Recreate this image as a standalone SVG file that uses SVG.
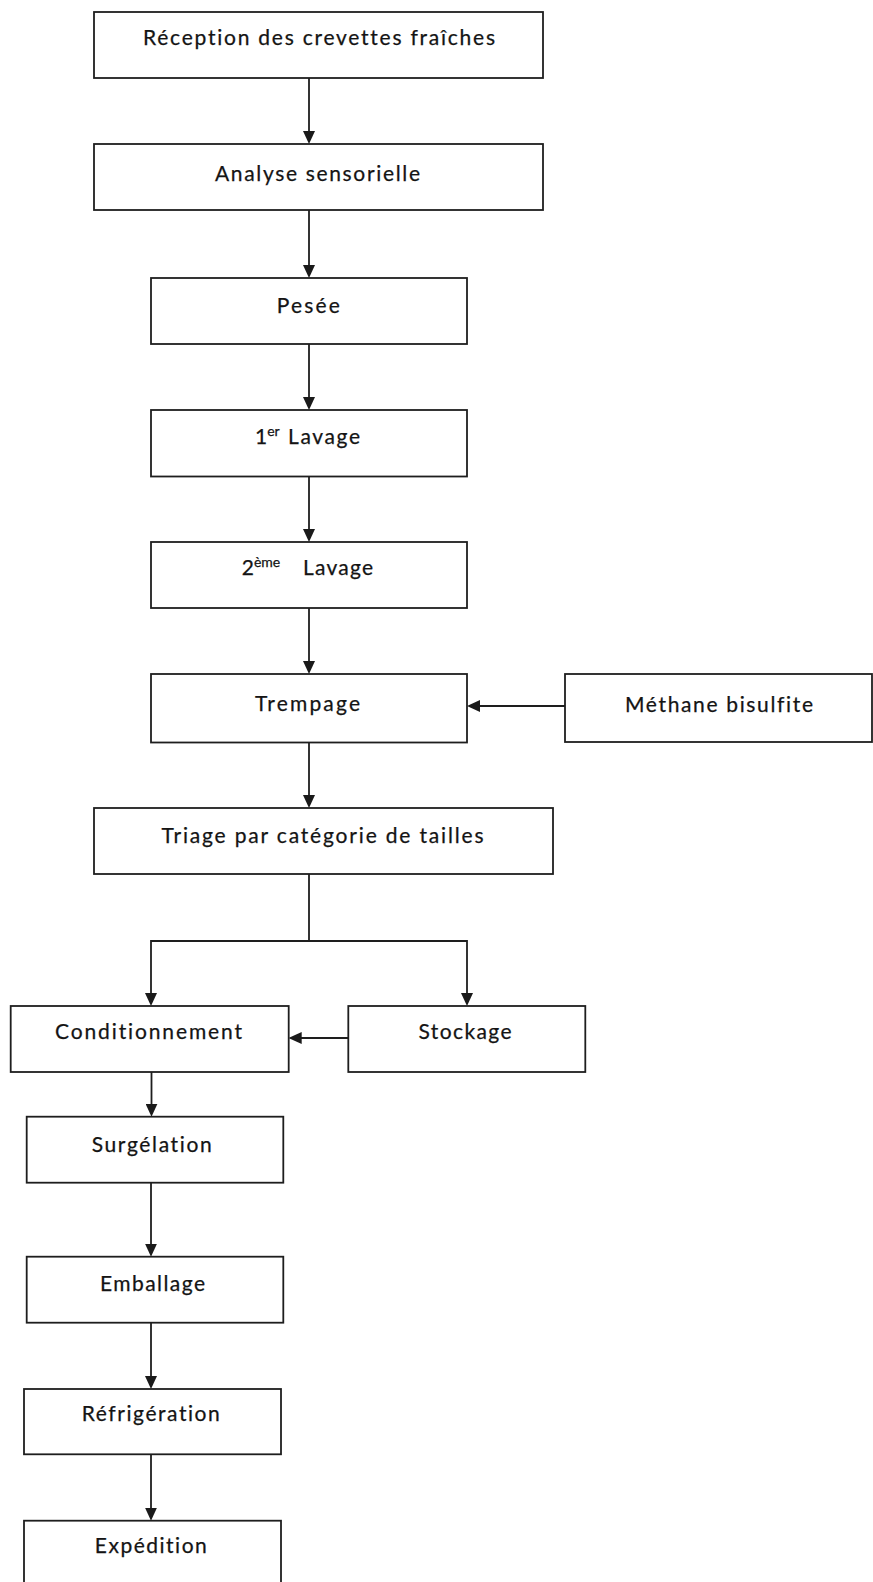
<svg xmlns="http://www.w3.org/2000/svg" width="873" height="1582" viewBox="0 0 873 1582">
<style>
.box{fill:#ffffff;stroke:#1e1e1e;stroke-width:1.8}
.lbl,.lbs{font-family:Lato,"Liberation Sans",sans-serif;font-size:21px;fill:#141414;stroke:#141414;stroke-width:0.25;font-variant-ligatures:none;font-feature-settings:"liga" 0,"clig" 0}
.lbl{text-anchor:middle}
.sup{font-size:14px}
.con{fill:none;stroke:#1e1e1e;stroke-width:1.8}
</style>
<defs>
<marker id="ah" viewBox="0 0 13 12" refX="10" refY="6" markerWidth="13" markerHeight="12" markerUnits="userSpaceOnUse" orient="auto">
<path d="M0,0 L13,6 L0,12 z" fill="#1a1a1a"/>
</marker>
</defs>
<rect width="873" height="1582" fill="#ffffff"/>
<g id="connectors">
<path class="con" marker-end="url(#ah)" d="M309,78 V141"/>
<path class="con" marker-end="url(#ah)" d="M309,210 V275"/>
<path class="con" marker-end="url(#ah)" d="M309,344 V407"/>
<path class="con" marker-end="url(#ah)" d="M309,476.5 V539"/>
<path class="con" marker-end="url(#ah)" d="M309,608 V671"/>
<path class="con" marker-end="url(#ah)" d="M565,706 H470"/>
<path class="con" marker-end="url(#ah)" d="M309,742.5 V805"/>
<path class="con" d="M309,874 V941"/>
<path class="con" marker-end="url(#ah)" d="M309,941 H151 V1003"/>
<path class="con" marker-end="url(#ah)" d="M309,941 H467 V1003"/>
<path class="con" marker-end="url(#ah)" d="M348,1038 H291.7"/>
<path class="con" marker-end="url(#ah)" d="M151.5,1072 V1113.7"/>
<path class="con" marker-end="url(#ah)" d="M151,1182.7 V1253.7"/>
<path class="con" marker-end="url(#ah)" d="M151,1322.7 V1386"/>
<path class="con" marker-end="url(#ah)" d="M151,1454.3 V1517.7"/>
</g>
<g id="n1"><rect class="box" x="94" y="12" width="449" height="66"/><text class="lbl" x="319" y="45" textLength="352" lengthAdjust="spacing">Réception des crevettes fraîches</text></g>
<g id="n2"><rect class="box" x="94" y="144" width="449" height="66"/><text class="lbl" x="317.5" y="181" textLength="205" lengthAdjust="spacing">Analyse sensorielle</text></g>
<g id="n3"><rect class="box" x="151" y="278" width="316" height="66"/><text class="lbl" x="308.3" y="312.5" textLength="63" lengthAdjust="spacing">Pesée</text></g>
<g id="n4"><rect class="box" x="151" y="410" width="316" height="66.5"/><text class="lbs" x="255" y="443.5">1<tspan class="sup" dy="-8">er</tspan><tspan x="288" dy="8" textLength="72" lengthAdjust="spacing">Lavage</tspan></text></g>
<g id="n5"><rect class="box" x="151" y="542" width="316" height="66"/><text class="lbs" x="241.7" y="575">2<tspan class="sup" dy="-8">ème</tspan><tspan x="303" dy="8" textLength="70" lengthAdjust="spacing">Lavage</tspan></text></g>
<g id="n6"><rect class="box" x="151" y="674" width="316" height="68.5"/><text class="lbl" x="307.5" y="710.5" textLength="105" lengthAdjust="spacing">Trempage</text></g>
<g id="n7"><rect class="box" x="565" y="674" width="307" height="68"/><text class="lbl" x="719" y="711.5" textLength="188" lengthAdjust="spacing">Méthane bisulfite</text></g>
<g id="n8"><rect class="box" x="94" y="808" width="459" height="66"/><text class="lbl" x="322.5" y="842.5" textLength="322" lengthAdjust="spacing">Triage par catégorie de tailles</text></g>
<g id="n9"><rect class="box" x="10.7" y="1006" width="278" height="66"/><text class="lbl" x="148.5" y="1039.3" textLength="187" lengthAdjust="spacing">Conditionnement</text></g>
<g id="n10"><rect class="box" x="348.3" y="1006" width="237" height="66"/><text class="lbl" x="465" y="1039" textLength="93" lengthAdjust="spacing">Stockage</text></g>
<g id="n11"><rect class="box" x="26.7" y="1116.7" width="256.6" height="66"/><text class="lbl" x="151.7" y="1151.5" textLength="120" lengthAdjust="spacing">Surgélation</text></g>
<g id="n12"><rect class="box" x="26.7" y="1256.7" width="256.6" height="66"/><text class="lbl" x="152.5" y="1290.7" textLength="105" lengthAdjust="spacing">Emballage</text></g>
<g id="n13"><rect class="box" x="24" y="1389" width="257" height="65.3"/><text class="lbl" x="150.8" y="1420.5" textLength="138" lengthAdjust="spacing">Réfrigération</text></g>
<g id="n14"><rect class="box" x="24" y="1520.7" width="257" height="70"/><text class="lbl" x="150.8" y="1553.3" textLength="112" lengthAdjust="spacing">Expédition</text></g>
</svg>
